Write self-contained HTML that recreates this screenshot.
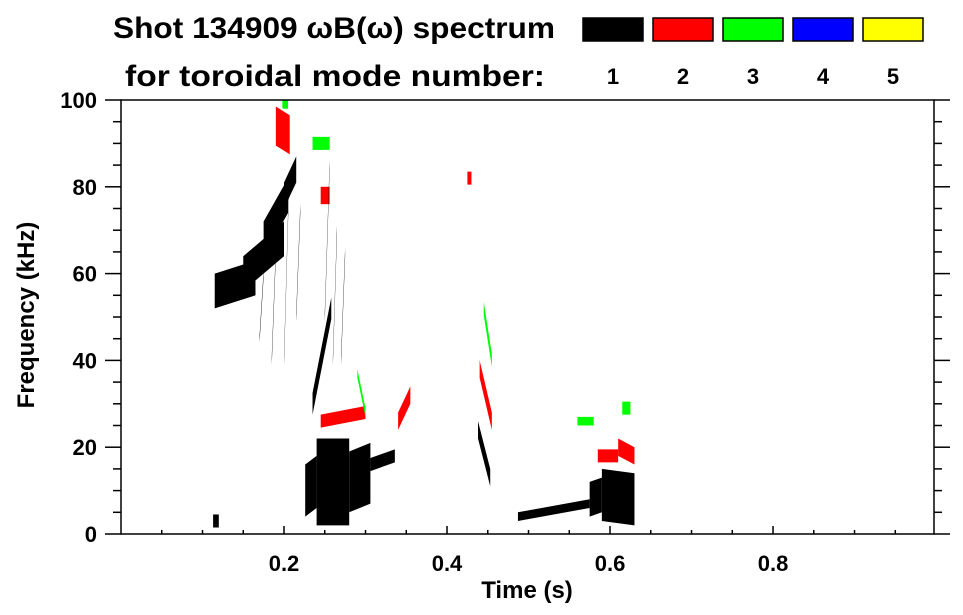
<!DOCTYPE html>
<html><head><meta charset="utf-8"><style>
body{margin:0;background:#fff;}
svg{display:block;font-family:"Liberation Sans",sans-serif;font-weight:bold;}
</style></head><body>
<svg id="chart" width="963" height="615" viewBox="0 0 963 615">
<text x="113" y="38" font-size="30" textLength="442" lengthAdjust="spacingAndGlyphs">Shot 134909 ωB(ω) spectrum</text>
<text x="125" y="86" font-size="30" textLength="420" lengthAdjust="spacingAndGlyphs">for toroidal mode number:</text>
<g id="legend"></g>
<g id="marks"></g>
<g id="axes"></g>
<text x="527" y="598" font-size="24" text-anchor="middle">Time (s)</text>
<text transform="translate(34,315) rotate(-90)" font-size="24" text-anchor="middle">Frequency (kHz)</text>
</svg>
<script>
const modes=[1,2,3,4,5];
const modeColors=['#000','#f00','#0f0','#00f','#ff0'];
const xTicks=[0.2,0.4,0.6,0.8];
const yTicks=[0,20,40,60,80,100];
// segments: start time, end time, start freq, end freq, bandwidth (kHz), mode
const segT0=[0.115,0.15,0.175,0.2,0.226,0.24,0.28,0.235,0.306,0.438,0.487,0.575,0.59,0.113,0.19,0.245,0.425,0.34,0.44,0.245,0.585,0.61,0.235,0.198,0.445,0.29,0.56,0.615,0.2,0.25,0.215,0.185,0.17,0.26,0.27];
const segT1=[0.165,0.2,0.205,0.215,0.24,0.28,0.306,0.258,0.336,0.453,0.575,0.59,0.63,0.12,0.207,0.256,0.43,0.355,0.455,0.3,0.61,0.63,0.256,0.205,0.455,0.3,0.58,0.625,0.206,0.256,0.22,0.19,0.175,0.265,0.275];
const segF0=[56,60,68,78,10,12,12,30,16,24,4,8,9,3,94,78,82,26,38,26,18,20,90,99,52,37,26,29,40,50,50,40,45,40,40];
const segF1=[59,68,78,84,12,12,14,52,18,13,7,9,8,3,92,78,82,32,26,28,18,18,90,99,40,28,26,29,80,85,75,65,60,70,65];
const segBW=[8,8,8,6,12,20,14,5,3,4,2,8,12,3,9,4,3,4,4,3,3,4,3,2,3,2,2,3,2,2,2,2,1.5,2,2];
const segMode=[1,1,1,1,1,1,1,1,1,1,1,1,1,1,2,2,2,2,2,2,2,2,3,3,3,3,3,3,1,1,1,1,1,1,1];
const X0=121,X1=934,Y0=534,Y1=100,XMAX=0.9975;
const xs=t=>X0+(X1-X0)*t/XMAX, ys=f=>Y0+(Y1-Y0)*f/100;
const NS='http://www.w3.org/2000/svg';
function mk(tag,at,parent){const e=document.createElementNS(NS,tag);for(const k in at)e.setAttribute(k,at[k]);parent.appendChild(e);return e;}
const lg=document.getElementById('legend');
modes.forEach((m,i)=>{
 const r=mk('rect',{x:583+70*i,y:18,width:60,height:23,fill:modeColors[i],stroke:'#000','stroke-width':1.5},lg);
 
 
 const t=mk('text',{x:613+70*i,y:84,'font-size':22,'text-anchor':'middle'},lg);t.textContent=m;
 
 
});
const mg=document.getElementById('marks');
for(let i=0;i<segT0.length;i++){
 const h0=segBW[i]/2,x0=xs(segT0[i]),x1=xs(segT1[i]);
 const pts=[[x0,ys(segF0[i]+h0)],[x1,ys(segF1[i]+h0)],[x1,ys(segF1[i]-h0)],[x0,ys(segF0[i]-h0)]];
 const p=mk('polygon',{points:pts.map(p=>p.join(',')).join(' '),fill:modeColors[segMode[i]-1]},mg);
 
 
}
const ax=document.getElementById('axes');
mk('rect',{x:X0,y:Y1,width:X1-X0,height:Y0-Y1,fill:'none',stroke:'#000','stroke-width':1.5},ax);
for(let v=0;v<=100.01;v+=5){const y=ys(v),maj=v%20===0;
 mk('line',{x1:X0-(maj?16:8),x2:X0,y1:y,y2:y,stroke:'#000','stroke-width':1.5},ax);
 mk('line',{x1:X1,x2:X1+(maj?16:8),y1:y,y2:y,stroke:'#000','stroke-width':1.5},ax);}
yTicks.forEach(v=>{const t=mk('text',{x:97,y:ys(v)+8,'font-size':22,'text-anchor':'end'},ax);t.textContent=v;
 
 });
for(let k=1;k<20;k++){const v=k*0.05,x=xs(v),maj=k%4===0;
 mk('line',{x1:x,x2:x,y1:Y0,y2:Y0-(maj?8:4),stroke:'#000','stroke-width':1.5},ax);}
xTicks.forEach(v=>{const t=mk('text',{x:xs(v),y:571,'font-size':22,'text-anchor':'middle'},ax);t.textContent=v.toFixed(1);
 
 });
</script>
</body></html>
